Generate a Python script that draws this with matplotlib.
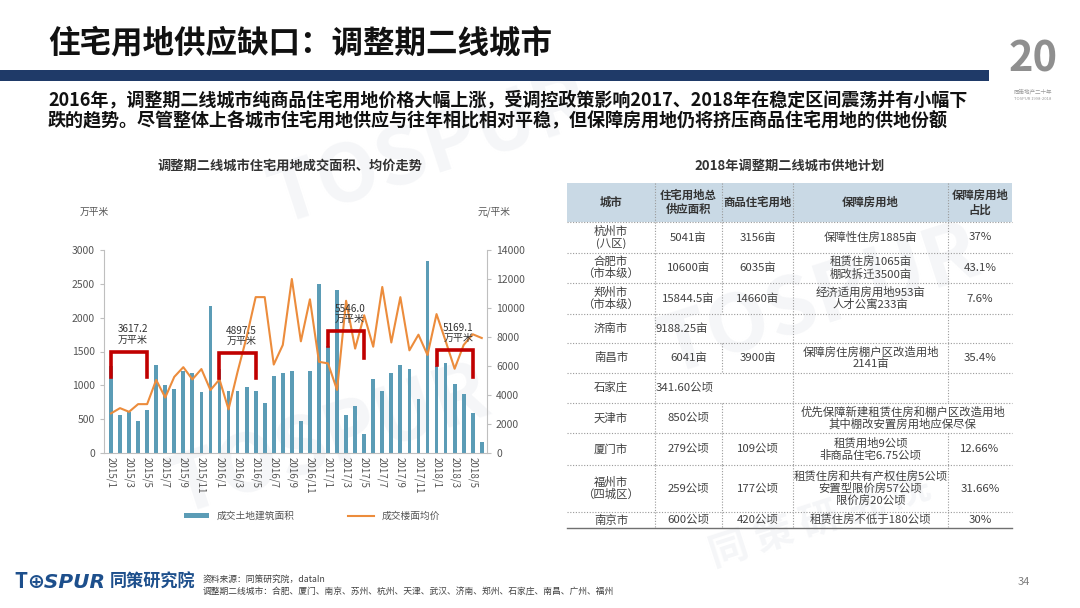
import matplotlib
matplotlib.use("Agg")
import matplotlib.pyplot as plt
from matplotlib.patches import Rectangle
import numpy as np

plt.rcParams["font.family"] = ["Noto Sans CJK SC", "DejaVu Sans"]

W, H = 1080, 608

# ---- chart data ----
area = [1280, 556, 600, 467, 635, 1304, 1009, 950, 1205, 1182, 901, 2176,
        1245, 910, 910, 975, 910, 738, 1142, 1182, 1205, 480, 1210, 2495,
        1575, 2410, 566, 689, 280, 1100, 910, 1181, 1304, 1240, 800, 2842,
        1285, 1329, 1023, 875, 590, 157]
price = [2730, 3095, 2840, 3370, 3370, 5040, 3825, 5250, 5920, 5075, 5790, 4340,
         5075, 3010, 5600, 8000, 10750, 10750, 6100, 7450, 12000, 7700, 10600, 6290,
         6180, 4350, 10500, 7200, 9500, 7330, 11450, 7620, 10750, 7080, 8160, 6760,
         9580, 7730, 5810, 7450, 8190, 7930]
tick_labels = ["2015/1", "2015/3", "2015/5", "2015/7", "2015/9", "2015/11",
               "2016/1", "2016/3", "2016/5", "2016/7", "2016/9", "2016/11",
               "2017/1", "2017/3", "2017/5", "2017/7", "2017/9", "2017/11",
               "2018/1", "2018/3", "2018/5"]
# Jan-May totals: first/last month index, bracket top, leg ends, label
bracket_start = [0, 12, 24, 36]
bracket_end = [4, 16, 28, 40]
bracket_top = [1500, 1480, 1805, 1525]
bracket_left = [1130, 1115, 1574, 1300]
bracket_right = [1130, 1115, 1400, 1130]
bracket_label = ["3617.2", "4897.5", "5546.0", "5169.1"]

# ---- table data ----
tbl_header = ["城市", "住宅用地总\n供应面积", "商品住宅用地", "保障房用地", "保障房用地\n占比"]
tbl_city = ["杭州市\n(八区)", "合肥市\n（市本级）", "郑州市\n（市本级）", "济南市", "南昌市",
            "石家庄", "天津市", "厦门市", "福州市\n（四城区）", "南京市"]
tbl_total = ["5041亩", "10600亩", "15844.5亩", "9188.25亩", "6041亩", "341.60公顷",
             "850公顷", "279公顷", "259公顷", "600公顷"]
tbl_comm = ["3156亩", "6035亩", "14660亩", "", "3900亩", "", "", "109公顷", "177公顷", "420公顷"]
tbl_afford = ["保障性住房1885亩", "租赁住房1065亩\n棚改拆迁3500亩",
              "经济适用房用地953亩\n人才公寓233亩", "", "保障房住房棚户区改造用地\n2141亩", "",
              "优先保障新建租赁住房和棚户区改造用地\n其中棚改安置房用地应保尽保",
              "租赁用地9公顷\n非商品住宅6.75公顷",
              "租赁住房和共有产权住房5公顷\n安置型限价房57公顷\n限价房20公顷",
              "租赁住房不低于180公顷"]
tbl_share = ["37%", "43.1%", "7.6%", "", "35.4%", "", "", "12.66%", "31.66%", "30%"]

BAR_C = "#5b9cb6"
LINE_C = "#ec8c3c"
NAVY = "#1f3a68"
TXT = "#404040"

fig = plt.figure(figsize=(W / 100, H / 100), dpi=100)
bg = fig.add_axes([0, 0, 1, 1])
bg.set_xlim(0, W)
bg.set_ylim(H, 0)
bg.axis("off")

# faint watermarks
for (x, y, s, fs) in [(430, 150, "TOSPUR", 58), (820, 300, "TOSPUR", 58),
                      (330, 440, "TOSPUR", 58), (820, 520, "同 策 研 究 院", 28)]:
    bg.text(x, y, s, fontsize=fs, color="#f5f6f8", fontweight="bold", style="italic",
            rotation=18, ha="center", va="center", zorder=0)

# header
bg.text(48, 43, "住宅用地供应缺口：调整期二线城市", fontsize=22.7, fontweight="bold",
        color="#111111", va="center", ha="left")
bg.add_patch(Rectangle((0, 70), 989, 11, color=NAVY, lw=0))
bg.text(48, 100, "2016年，调整期二线城市纯商品住宅用地价格大幅上涨，受调控政策影响2017、2018年在稳定区间震荡并有小幅下",
        fontsize=13, fontweight="bold", color="#111111", va="center")
bg.text(48, 121, "跌的趋势。尽管整体上各城市住宅用地供应与往年相比相对平稳，但保障房用地仍将挤压商品住宅用地的供地份额",
        fontsize=13, fontweight="bold", color="#111111", va="center")

# 20 logo
bg.text(1033, 60, "20", fontsize=30, fontweight="bold", color="#8f8f8f", ha="center", va="center")
bg.text(1033, 91, "同策地产二十年", fontsize=4, color="#9a9a9a", ha="center", va="center")
bg.text(1033, 99, "TOSPUR 1998-2018", fontsize=3, color="#9a9a9a", ha="center", va="center")

# sub titles
bg.text(290, 166, "调整期二线城市住宅用地成交面积、均价走势", fontsize=9.5, fontweight="bold",
        color="#333333", ha="center", va="center")
bg.text(790, 166, "2018年调整期二线城市供地计划", fontsize=9.5, fontweight="bold",
        color="#333333", ha="center", va="center")
bg.text(80, 212, "万平米", fontsize=7, color="#555555", va="center")
bg.text(478, 212, "元/平米", fontsize=7, color="#555555", va="center")

# ---- chart ----
x0, x1, y0, y1 = 104, 487, 250, 453
ax = fig.add_axes([x0 / W, 1 - y1 / H, (x1 - x0) / W, (y1 - y0) / H])
ax.patch.set_alpha(0)
x = np.arange(len(area))
bars = ax.bar(x, area, width=0.42, color=BAR_C, zorder=2)
ax.set_xlim(-0.77, len(area) - 0.42)
ax.set_ylim(0, 3000)
ax.set_yticks(np.arange(0, 3001, 500))
ax.set_xticks(x[::2])
ax.set_xticklabels(tick_labels, rotation=270, fontsize=7, color="#555555")
ax.tick_params(axis="x", length=0, pad=3)
ax.tick_params(axis="y", labelsize=7.5, labelcolor="#555555", length=3, color="#bfbfbf")
for s in ["top", "right"]:
    ax.spines[s].set_visible(False)
for s in ["left", "bottom"]:
    ax.spines[s].set_color("#bfbfbf")

ax2 = ax.twinx()
line, = ax2.plot(x, price, color=LINE_C, lw=1.5, zorder=3)
ax2.set_ylim(0, 14000)
ax2.set_yticks(np.arange(0, 14001, 2000))
ax2.tick_params(axis="y", labelsize=7.5, labelcolor="#555555", length=3, color="#bfbfbf")
for s in ["top", "left", "bottom"]:
    ax2.spines[s].set_visible(False)
ax2.spines["right"].set_color("#bfbfbf")

# Jan-May brackets, expressed in area units and mapped onto the price axis
for i0, i1, top, lft, rgt, lab in zip(bracket_start, bracket_end, bracket_top,
                                       bracket_left, bracket_right, bracket_label):
    ax2.plot([i0, i0, i1, i1], np.array([lft, top, top, rgt]) * 14000 / 3000,
             color="#c00000", lw=2.6, solid_joinstyle="miter", zorder=5)
    ax2.text((i0 + i1) / 2 + 0.4, (top + 250) * 14000 / 3000, lab + "\n万平米",
             fontsize=7.2, color="#333333", ha="center", va="center",
             linespacing=1.05, zorder=6)

fig.legend([bars, line], ["成交土地建筑面积", "成交楼面均价"], loc="center",
           bbox_to_anchor=(312 / W, 1 - 516 / H), ncol=2, frameon=False,
           fontsize=7, labelcolor="#555555", columnspacing=5.5, handlelength=2.6,
           handleheight=0.5)

# ---- table ----
cols = [567, 655, 722, 793, 948, 1012]
rows = [183, 222, 253, 283, 314, 343, 373, 403, 433, 465, 512, 528]
dot = dict(color="#9a9a9a", lw=0.8, ls=(0, (1, 1.5)))
bg.add_patch(Rectangle((cols[0], rows[0]), cols[-1] - cols[0], rows[1] - rows[0],
                       color="#c9d9e5", lw=0, zorder=1))
for j, h in enumerate(tbl_header):
    bg.text((cols[j] + cols[j + 1]) / 2, (rows[0] + rows[1]) / 2, h, fontsize=8.2,
            fontweight="bold", color="#333333", ha="center", va="center", linespacing=1.15)
for j in range(1, 5):
    bg.plot([cols[j], cols[j]], [rows[0], rows[1]], **dot)
for yy in rows[1:-1]:
    bg.plot([cols[0], cols[-1]], [yy, yy], **dot)
bg.plot([cols[0], cols[-1]], [rows[-1], rows[-1]], color="#707070", lw=1)
for i in range(len(tbl_city)):
    ya, yb = rows[i + 1], rows[i + 2]
    yc = (ya + yb) / 2
    only_total = not tbl_comm[i] and not tbl_afford[i]
    spans = tbl_afford[i] and not tbl_share[i]
    for j in range(1, 5):
        if only_total and j == 2:
            continue
        if spans and j == 4:
            continue
        bg.plot([cols[j], cols[j]], [ya, yb], **dot)
    kw = dict(fontsize=8.2, color=TXT, va="center", linespacing=1.1)
    bg.text((cols[0] + cols[1]) / 2, yc, tbl_city[i], ha="center", **kw)
    if only_total:
        bg.text(cols[1] + 1, yc, tbl_total[i], ha="left", **kw)
    else:
        bg.text((cols[1] + cols[2]) / 2, yc, tbl_total[i], ha="center", **kw)
    bg.text((cols[2] + cols[3]) / 2, yc, tbl_comm[i], ha="center", **kw)
    if spans:
        bg.text((cols[3] + cols[5]) / 2, yc, tbl_afford[i], ha="center", **kw)
    else:
        bg.text((cols[3] + cols[4]) / 2, yc, tbl_afford[i], ha="center", **kw)
    bg.text((cols[4] + cols[5]) / 2, yc, tbl_share[i], ha="center", **kw)

# ---- footer ----
bg.text(14, 582, "T", fontsize=15, fontweight="bold", style="italic", color="#1d4f8c", va="center")
bg.text(27, 582, "⊕SPUR", fontsize=14.5, fontweight="bold", style="italic", color="#1d4f8c",
        va="center", family="DejaVu Sans")
bg.text(110, 582, "同策研究院", fontsize=12.3, fontweight="bold", style="italic",
        color="#1d4f8c", va="center")
bg.text(203, 579, "资料来源：同策研究院，dataIn", fontsize=6.3, color=TXT, va="center")
bg.text(203, 592, "调整期二线城市：合肥、厦门、南京、苏州、杭州、天津、武汉、济南、郑州、石家庄、南昌、广州、福州",
        fontsize=6.3, color=TXT, va="center")
bg.text(1024, 582, "34", fontsize=8, color="#7f7f7f", va="center", ha="center")

fig.savefig("out.png", dpi=100)
